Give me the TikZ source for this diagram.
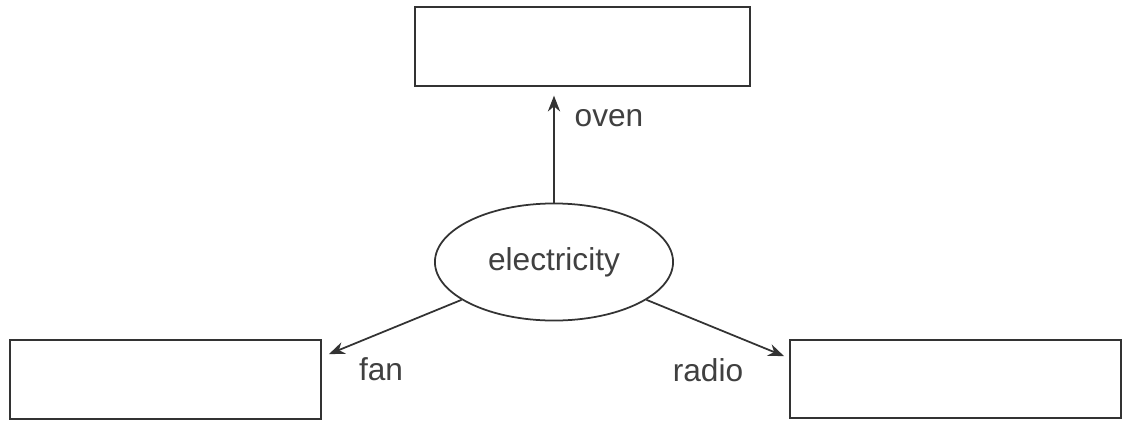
\documentclass[tikz,border=0pt]{standalone}
\usepackage{fontspec}
\setmainfont{Liberation Sans}
\usetikzlibrary{arrows.meta,shapes.geometric}

\begin{document}
\begin{tikzpicture}[x=0.01cm,y=0.01cm,
  box/.style={draw=black!80,line width=0.5pt,inner sep=0pt},
  link/.style={draw=black!80,line width=0.5pt,-{Stealth[length=4.5pt,width=3.5pt]}},
  lbl/.style={text=black!75,font=\fontsize{9pt}{11pt}\selectfont}]
\useasboundingbox (0,0) rectangle (1123,-421);

\node[box,minimum width=3.35cm,minimum height=0.79cm] (oven) at (582.5,-46.5) {};
\node[box,minimum width=3.11cm,minimum height=0.79cm] (fan) at (165.5,-379.5) {};
\node[box,minimum width=3.31cm,minimum height=0.78cm] (radio) at (955.5,-379) {};
\node[box,ellipse,minimum width=2.38cm,minimum height=1.17cm,lbl] (elec) at (554,-262) {electricity};

\coordinate (fanin) at ([shift={(7,-15)}]fan.north east);
\coordinate (radioin) at ([shift={(-5,-17)}]radio.north west);

\draw[link,shorten >=2.5pt] (elec.north) -- (elec.north |- oven.south);
\draw[link] (elec) -- (fanin);
\draw[link] (elec) -- (radioin);

\node[lbl] (ovenlbl) at (609,-118) {oven};
\node[lbl] (fanlbl) at (381,-369) {fan};
\node[lbl] (radiolbl) at (708,-370) {radio};
\end{tikzpicture}
\end{document}
